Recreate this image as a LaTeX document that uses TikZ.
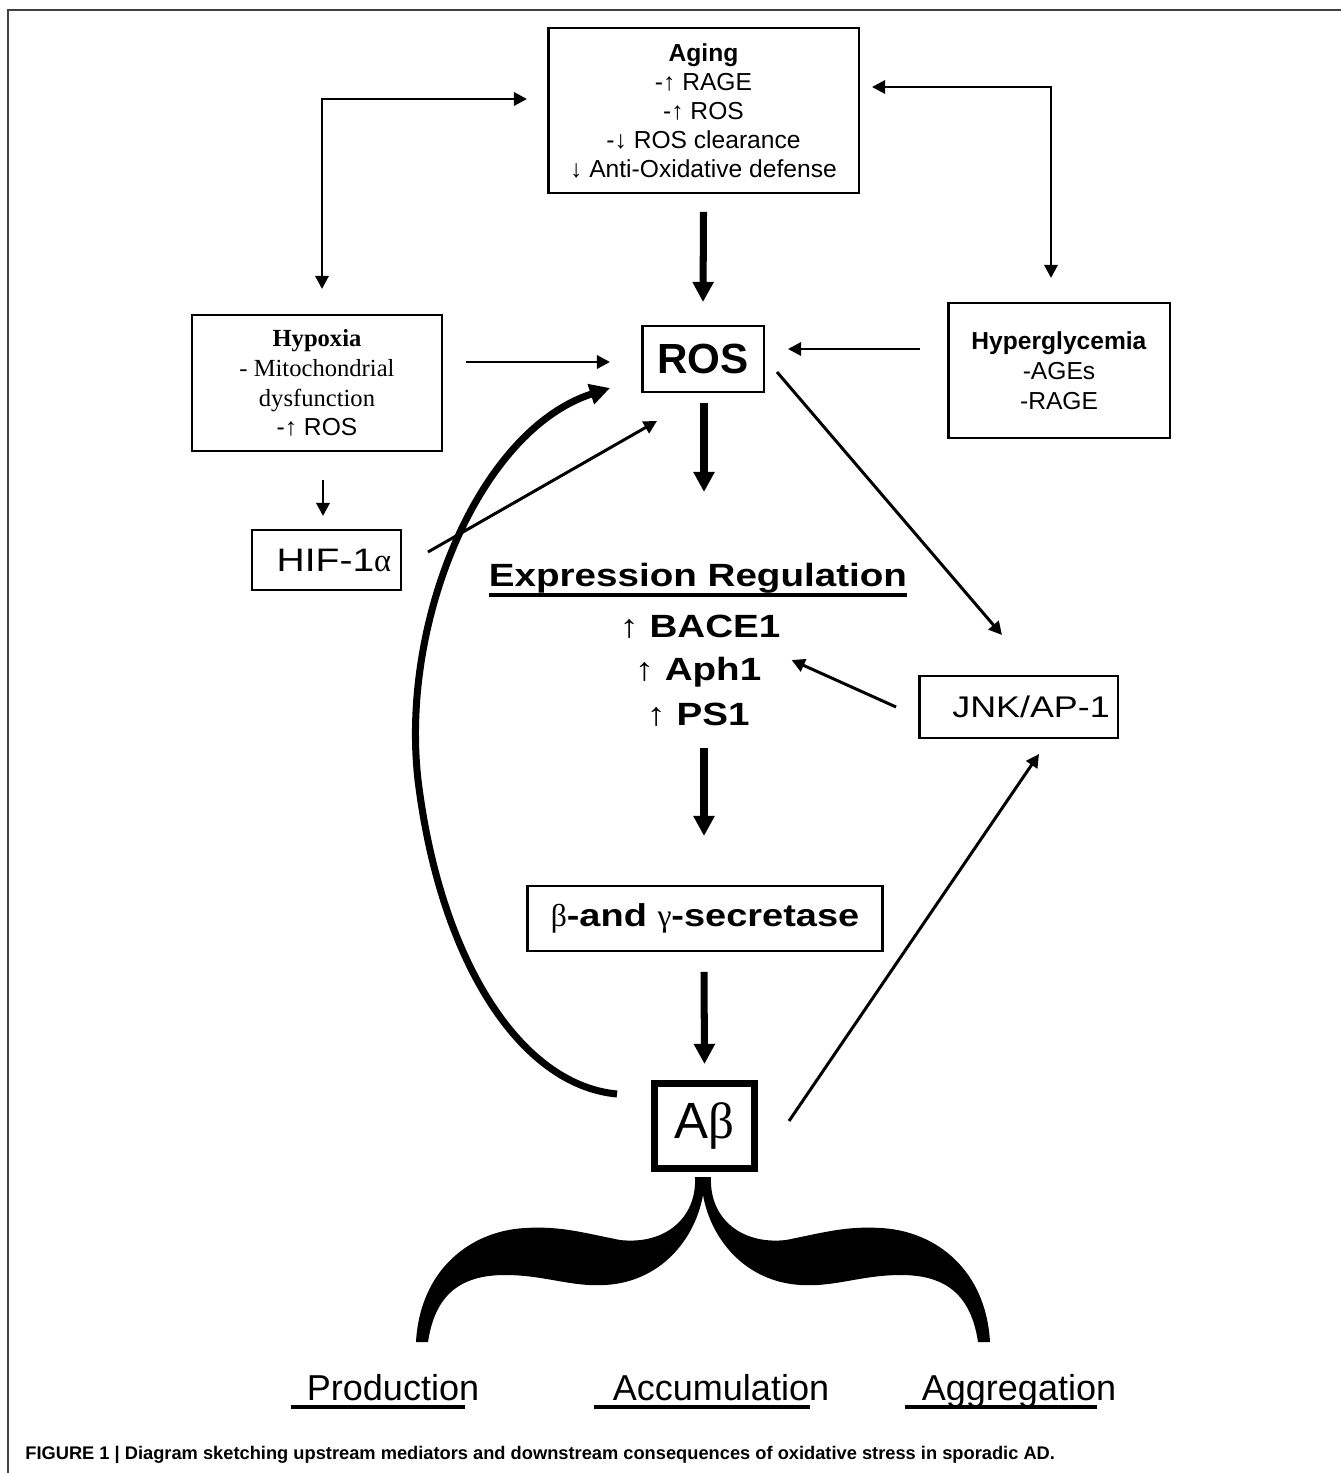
\documentclass[tikz,border=0pt]{standalone}
\usepackage{fontspec}
\setmainfont{Liberation Sans}
\newfontfamily\serifface{Liberation Serif}
\newfontfamily\widesans{Liberation Sans}[FakeStretch=1.2]
\usepackage{tikz}
\usetikzlibrary{arrows.meta}

\begin{document}
\begin{tikzpicture}[x=0.02cm,y=-0.02cm,
  box/.style={draw,line width=1.4pt,align=center,inner sep=0pt},
  smalltext/.style={font=\fontsize{14}{16.5}\selectfont},
  bigtext/.style={font=\widesans\bfseries\fontsize{18.3}{22}\selectfont,inner sep=0pt,anchor=base},
  label/.style={font=\fontsize{20.5}{24}\selectfont,inner sep=0pt,anchor=base},
  arr/.style={-{Triangle[length=7.5pt,width=7.5pt]},line width=1.7pt},
  biarr/.style={{Triangle[length=7.5pt,width=7.5pt]}-{Triangle[length=7.5pt,width=7.5pt]},line width=1.6pt},
  bigarr/.style={-{Triangle[length=11.5pt,width=11.5pt]},line width=4pt},
  uline/.style={line width=2.2pt}]
\useasboundingbox (0,0) rectangle (1341,1473);
\draw[line width=0.6pt,black!75] (8,1473) -- (8,10) -- (1341,10);

\node[box,smalltext,minimum width=6.21cm,minimum height=3.29cm] (aging) at (703.5,110.5)
  {\textbf{Aging}\\-↑ RAGE\\-↑ ROS\\-↓ ROS clearance\\↓ Anti-Oxidative defense};
\node[box,font=\serifface\fontsize{14}{17}\selectfont,minimum width=5.0cm,minimum height=2.71cm] (hypoxia) at (317,383)
  {\textbf{Hypoxia}\\- Mitochondrial\\dysfunction\\{\normalfont -↑ ROS}};
\node[box,font=\widesans\fontsize{18.5}{21}\selectfont,minimum width=2.97cm,minimum height=1.19cm] (hif) at (326.5,560)
  {\hspace*{0.3cm}HIF-1{\serifface α}};
\node[box,font=\bfseries\fontsize{24}{28}\selectfont,minimum width=2.43cm,minimum height=1.31cm] (ros) at (703,359) {ROS};
\node[box,font=\fontsize{14}{17}\selectfont,minimum width=4.43cm,minimum height=2.69cm] (hyper) at (1059,370.5)
  {\textbf{Hyperglycemia}\\-AGEs\\-RAGE};
\node[box,font=\widesans\fontsize{17}{20}\selectfont,minimum width=3.97cm,minimum height=1.23cm] (jnk) at (1018.5,707)
  {\hspace*{0.5cm}JNK/AP-1};

\node[bigtext] (exphead) at (698,586) {Expression Regulation};
\node[bigtext] (bace) at (700,637) {{\mdseries ↑} BACE1};
\node[bigtext] (aph) at (698,680) {{\mdseries ↑} Aph1};
\node[bigtext] (ps) at (698,725) {{\mdseries ↑} PS1};
\draw[uline] ([shift={(0,9)}]exphead.base west) -- ([shift={(0,9)}]exphead.base east);

\node[box,font=\widesans\bfseries\fontsize{18}{22}\selectfont,minimum width=7.11cm,minimum height=1.29cm] (secretase) at (705,918.5)
  {{\serifface\mdseries β}-and {\serifface\mdseries γ}-secretase};
\node[box,line width=4pt,font=\fontsize{29}{32}\selectfont,minimum width=2.0cm,minimum height=1.7cm] (abeta) at (704.5,1126)
  {A{\serifface β}};

\draw[bigarr] ([shift={(0,18)}]aging.south) -- ([shift={(0,-23)}]ros.north);
\draw[bigarr] ([shift={(1,10)}]ros.south) -- ([shift={(6,-94)}]exphead.base);
\draw[bigarr] ([shift={(6,23)}]ps.base) -- ([shift={(-1,-49)}]secretase.north);
\draw[bigarr] ([shift={(-1,20)}]secretase.south) -- ([shift={(0,-16)}]abeta.north);

\draw[biarr] ([shift={(-20,-11.5)}]aging.west) -| ([shift={(5,-25)}]hypoxia.north);
\draw[biarr] ([shift={(12,-23.5)}]aging.east) -| ([shift={(-8,-24)}]hyper.north);
\draw[arr] ([shift={(23,-21)}]hypoxia.east) -- ([shift={(-31,3)}]ros.west);
\draw[arr] ([shift={(6,28)}]hypoxia.south) -- ([shift={(-3.5,-13)}]hif.north);
\draw[arr] ([shift={(26,-8)}]hif.east) -- ([shift={(16,28)}]ros.south west);
\draw[arr] ([shift={(-27,-21.5)}]hyper.west) -- ([shift={(23,-10)}]ros.east);
\draw[arr] ([shift={(12,13)}]ros.east) -- ([shift={(-16.5,-40)}]jnk.north);
\draw[arr] ([shift={(-22,0)}]jnk.west) -- ([shift={(30,-20)}]aph.base east);
\draw[arr] ([shift={(31,-5)}]abeta.east) -- ([shift={(20.5,15)}]jnk.south);

\draw[bigarr] ([shift={(-34,-32)}]abeta.west) .. controls (520,1085) and (440,960) .. (418,780)
  .. controls (400,620) and (480,430) .. ([shift={(-31,29)}]ros.west);

\fill (695,1177) .. controls (697,1218) and (665,1245) .. (620,1240)
  .. controls (580,1232) and (560,1226) .. (525,1228)
  .. controls (470,1231) and (420,1270) .. (416,1342) -- (428,1342)
  .. controls (435,1295) and (460,1275) .. (505,1275)
  .. controls (545,1275) and (570,1287) .. (605,1285)
  .. controls (660,1282) and (695,1240) .. (703,1195)
  .. controls (711,1240) and (746,1282) .. (801,1285)
  .. controls (836,1287) and (861,1275) .. (901,1275)
  .. controls (946,1275) and (971,1295) .. (978,1342) -- (990,1342)
  .. controls (986,1270) and (936,1231) .. (881,1228)
  .. controls (846,1226) and (826,1232) .. (786,1240)
  .. controls (741,1245) and (709,1218) .. (711,1177) -- cycle;

\node[label] (prod) at (393,1400) {Production};
\node[label] (accu) at (721,1400) {Accumulation};
\node[label] (aggr) at (1019,1400) {Aggregation};
\draw[uline] ([shift={(-16,7)}]prod.base west) -- ([shift={(-14,7)}]prod.base east);
\draw[uline] ([shift={(-19,7)}]accu.base west) -- ([shift={(-19,7)}]accu.base east);
\draw[uline] ([shift={(-17,7)}]aggr.base west) -- ([shift={(-19,7)}]aggr.base east);

\node[font=\bfseries\fontsize{10.4}{12}\selectfont,inner sep=0pt,anchor=west] (caption) at (25,1455)
  {FIGURE 1 | Diagram sketching upstream mediators and downstream consequences of oxidative stress in sporadic AD.};
\end{tikzpicture}
\end{document}
